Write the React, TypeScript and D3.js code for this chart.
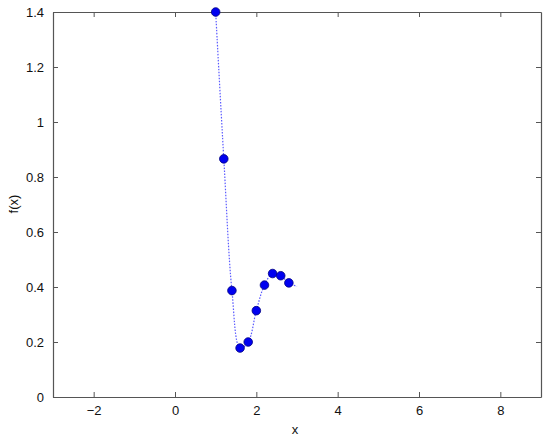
import React, { useEffect, useRef } from "react";
import * as d3 from "d3";

// sampled points (markers)
const xs = [1.0, 1.2, 1.4, 1.6, 1.8, 2.0, 2.2, 2.4, 2.6, 2.8];
const ys = [1.4, 0.866, 0.387, 0.178, 0.2, 0.314, 0.407, 0.449, 0.441, 0.415];
// dotted curve continues a little past the last marker
const curveEndX = 3.0;
const curveEndY = 0.402;

const xTicks = [-2, 0, 2, 4, 6, 8];
const yTicks = [0, 0.2, 0.4, 0.6, 0.8, 1, 1.2, 1.4];

const App = () => {
  const svgRef = useRef<SVGSVGElement | null>(null);

  useEffect(() => {
    if (!svgRef.current) return;
    const width = 550;
    const height = 440;
    const margin = { top: 12, right: 9, bottom: 43, left: 53 };
    const innerW = width - margin.left - margin.right;
    const innerH = height - margin.top - margin.bottom;

    const root = d3.select(svgRef.current);
    root.selectAll("*").remove();
    root.attr("width", width).attr("height", height);

    const g = root
      .append("g")
      .attr("transform", `translate(${margin.left},${margin.top})`);

    const x = d3.scaleLinear().domain([-3, 9]).range([0, innerW]);
    const y = d3.scaleLinear().domain([0, 1.4]).range([innerH, 0]);

    const axisColor = "#555";
    const font = "Liberation Sans, Arial, sans-serif";
    const fmt = d3.format("~g");

    // bottom axis (ticks point inward)
    const bottom = g
      .append("g")
      .attr("transform", `translate(0,${innerH})`)
      .call(d3.axisBottom(x).tickValues(xTicks).tickSizeInner(-5).tickSizeOuter(0).tickPadding(9).tickFormat((d) => fmt(d as number)));
    const top = g
      .append("g")
      .call(d3.axisTop(x).tickValues(xTicks).tickSizeInner(-5).tickSizeOuter(0).tickFormat(() => ""));
    const left = g
      .append("g")
      .call(d3.axisLeft(y).tickValues(yTicks).tickSizeInner(-5).tickSizeOuter(0).tickPadding(9).tickFormat((d) => fmt(d as number)));
    const right = g
      .append("g")
      .attr("transform", `translate(${innerW},0)`)
      .call(d3.axisRight(y).tickValues(yTicks).tickSizeInner(-5).tickSizeOuter(0).tickFormat(() => ""));

    [bottom, top, left, right].forEach((a) => {
      a.selectAll("path").attr("stroke", axisColor).attr("stroke-width", 1.2);
      a.selectAll("line").attr("stroke", axisColor);
      a.selectAll("text")
        .attr("fill", "#111")
        .attr("font-family", font)
        .attr("font-size", 13);
    });

    // dotted curve
    const linePts: [number, number][] = xs.map((v, i) => [v, ys[i]]);
    linePts.push([curveEndX, curveEndY]);
    const line = d3
      .line<[number, number]>()
      .x((d) => x(d[0]))
      .y((d) => y(d[1]))
      .curve(d3.curveCatmullRom.alpha(0.5));
    g.append("path")
      .datum(linePts)
      .attr("d", line)
      .attr("fill", "none")
      .attr("stroke", "#5a5aff")
      .attr("stroke-width", 1.2)
      .attr("stroke-dasharray", "1.5,1.5");

    // markers
    g.selectAll("circle")
      .data(xs.map((v, i) => [v, ys[i]]))
      .enter()
      .append("circle")
      .attr("cx", (d) => x(d[0]))
      .attr("cy", (d) => y(d[1]))
      .attr("r", 4.3)
      .attr("fill", "#0000f0")
      .attr("stroke", "#000080")
      .attr("stroke-width", 0.8);

    // axis labels
    root
      .append("text")
      .attr("x", 295)
      .attr("y", 434)
      .attr("text-anchor", "middle")
      .attr("font-family", font)
      .attr("font-size", 13)
      .attr("fill", "#111")
      .text("x");
    root
      .append("text")
      .attr("transform", `translate(18,204) rotate(-90)`)
      .attr("text-anchor", "middle")
      .attr("font-family", font)
      .attr("font-size", 13)
      .attr("fill", "#111")
      .text("f(x)");
  }, []);

  return (
    <svg
      ref={svgRef}
      style={{ position: "absolute", left: 0, top: 0, background: "#fff" }}
    ></svg>
  );
};

export default App;
